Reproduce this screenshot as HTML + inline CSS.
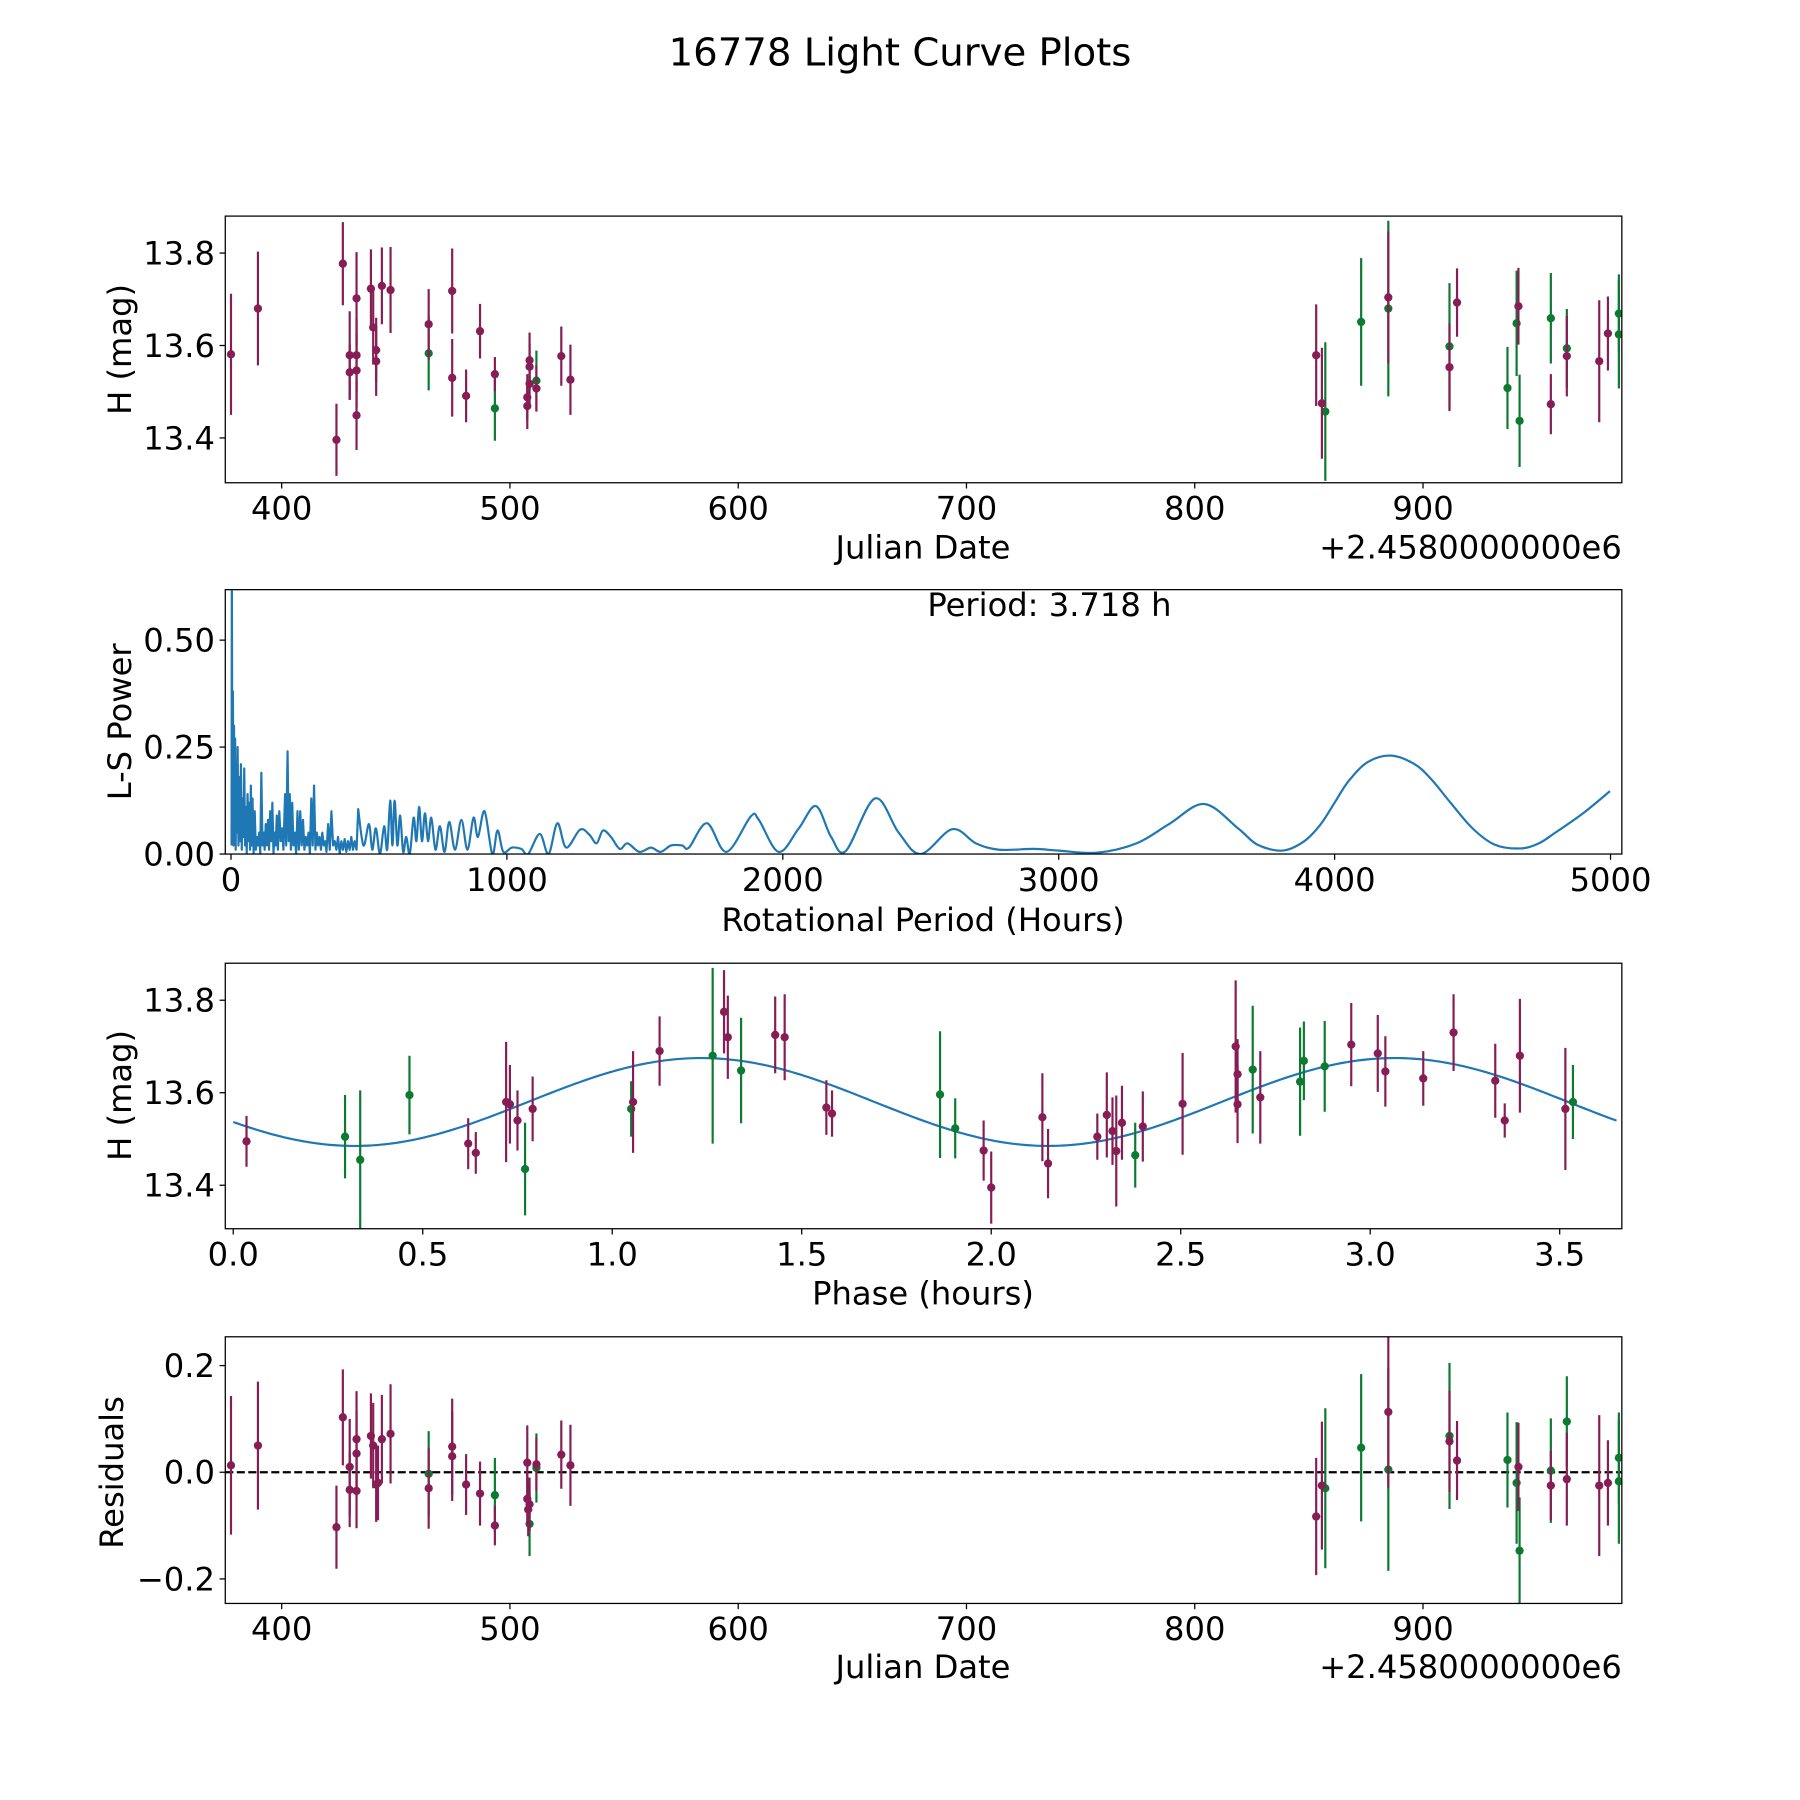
<!DOCTYPE html>
<html><head><meta charset="utf-8"><title>16778 Light Curve Plots</title>
<style>html,body{margin:0;padding:0;background:#fff;}svg{display:block;font-family:"DejaVu Sans","Liberation Sans",sans-serif;}</style>
</head><body>
<svg id="fig" xmlns="http://www.w3.org/2000/svg" width="1800" height="1800" viewBox="0 0 1566 1566">
<rect width="1566" height="1566" fill="#fff"/>
<text x="783" y="57" font-size="33.6" text-anchor="middle">16778 Light Curve Plots</text>
</svg>
<script>
// ---------- data ----------
const p1PurpleJD = [377.8,389.6,424,426.8,429.8,429.8,432.8,432.8,432.8,432.8,439.1,440.1,441.4,441.4,443.9,447.7,464.4,474.7,474.7,480.8,486.9,493.4,507.6,507.6,508.6,508.6,508.6,511.6,522.5,526.5,853.2,855.7,884.8,911.6,914.9,941.8,956,963,977.2,981];
const p1PurpleMag = [13.581,13.680,13.396,13.777,13.579,13.542,13.702,13.579,13.546,13.449,13.723,13.639,13.59,13.566,13.729,13.72,13.646,13.718,13.53,13.491,13.631,13.538,13.469,13.488,13.568,13.554,13.517,13.507,13.577,13.526,13.579,13.475,13.704,13.553,13.693,13.685,13.473,13.577,13.566,13.626];
const p1PurpleErr = [0.131,0.123,0.078,0.09,0.095,0.06,0.1,0.08,0.08,0.075,0.085,0.08,0.07,0.075,0.083,0.093,0.076,0.092,0.084,0.057,0.059,0.037,0.05,0.05,0.06,0.05,0.05,0.05,0.064,0.076,0.11,0.12,0.143,0.095,0.074,0.083,0.065,0.087,0.132,0.08];
const p1GreenJD = [464.4,493.4,511.6,857.2,872.9,884.8,911.6,937,941,942.3,956,963,985.8,985.8];
const p1GreenMag = [13.583,13.464,13.524,13.457,13.651,13.68,13.598,13.508,13.648,13.437,13.659,13.594,13.669,13.624];
const p1GreenErr = [0.08,0.07,0.065,0.15,0.138,0.19,0.137,0.089,0.114,0.1,0.098,0.085,0.085,0.117];

const lsPeriodDense = [2,3,5,7,9,11,13,15,17,19,21,24,27,30,33,36,39,42,45,48,51,54,57,60,63,66,69,72,75,78,82,86,90,94,98,102,106,110,114,118,122,126,130,134,138,142,146,150,154,158,162,166,170,175,180,185,190,196,200,205,209,213,217,222,226,231,236,241,246,251,256,261,266,271,276,281,286,291,296,301,306,311,316,321,326,331,336,341,346,352,358,364,370,376,382,388,394,400,406,412,418,424,430,436,442,448,455];
const lsPowerDense = [0.02,0.7,0.05,0.38,0.02,0.3,0.03,0.27,0.01,0.21,0.05,0.25,0.02,0.18,0.03,0.21,0.01,0.13,0.04,0.2,0.02,0.11,0.0,0.14,0.03,0.12,0.01,0.16,0.02,0.13,0.0,0.1,0.01,0.04,0.02,0.05,0.0,0.19,0.02,0.05,0.01,0.07,0.02,0.08,0.01,0.1,0.03,0.12,0.0,0.05,0.02,0.09,0.01,0.1,0.03,0.06,0.01,0.14,0.02,0.24,0.03,0.14,0.01,0.12,0.02,0.05,0.0,0.1,0.01,0.1,0.02,0.08,0.01,0.04,0.02,0.05,0.0,0.13,0.02,0.16,0.01,0.05,0.02,0.04,0.01,0.05,0.02,0.03,0.005,0.07,0.01,0.1,0.02,0.03,0.01,0.04,0.0,0.03,0.01,0.035,0.005,0.03,0.01,0.04,0.01,0.03,0.01];
const lsPeriodSmooth = [461,480,500,512,525,540,555,566,577,585,593,603,613,624,635,648,662,672,682,692,703,714,726,741,757,774,791,812,835,857,879,895,919,947,966,987,1018,1052,1077,1119,1151,1183,1215,1265,1299,1325,1348,1377,1409,1437,1480,1522,1557,1595,1635,1660,1725,1796,1884,1913,1985,2058,2120,2175,2228,2334,2420,2500,2614,2700,2784,2909,3000,3137,3282,3400,3527,3650,3720,3811,3890,3950,4000,4050,4120,4205,4290,4350,4420,4500,4580,4672,4740,4800,4900,4998];
const lsPowerSmooth = [0.105,0.02,0.07,0.01,0.06,0.0,0.065,0.01,0.125,0.02,0.125,0.02,0.09,0.005,0.04,0.0,0.085,0.03,0.11,0.03,0.095,0.03,0.085,0.01,0.065,0.005,0.075,0.01,0.08,0.01,0.085,0.04,0.1,0.0,0.055,0.005,0.015,0.012,0.0,0.047,0.0,0.072,0.015,0.057,0.045,0.025,0.055,0.04,0.012,0.025,0.005,0.015,0.005,0.02,0.02,0.015,0.072,0.005,0.088,0.08,0.005,0.06,0.112,0.04,0.007,0.13,0.05,0.0,0.058,0.025,0.01,0.012,0.008,0.003,0.025,0.07,0.117,0.06,0.022,0.008,0.03,0.07,0.12,0.17,0.215,0.23,0.21,0.175,0.12,0.06,0.022,0.013,0.025,0.05,0.095,0.147];

const p3PurplePhase = [0.035,0.62,0.64,0.72,0.73,0.75,0.79,1.055,1.125,1.295,1.305,1.43,1.455,1.565,1.58,1.98,2.0,2.135,2.15,2.28,2.305,2.32,2.33,2.345,2.40,2.505,2.645,2.65,2.65,2.71,2.95,3.02,3.04,3.14,3.22,3.33,3.355,3.395,3.515];
const p3PurpleMag = [13.495,13.49,13.47,13.58,13.575,13.54,13.565,13.58,13.69,13.775,13.72,13.725,13.72,13.568,13.555,13.475,13.395,13.547,13.447,13.505,13.552,13.517,13.474,13.535,13.527,13.576,13.70,13.64,13.575,13.59,13.704,13.685,13.646,13.631,13.73,13.626,13.54,13.68,13.565];
const p3PurpleErr = [0.055,0.055,0.045,0.13,0.085,0.065,0.07,0.11,0.075,0.09,0.09,0.083,0.093,0.059,0.05,0.065,0.078,0.095,0.075,0.05,0.092,0.073,0.12,0.08,0.076,0.11,0.143,0.076,0.084,0.1,0.09,0.083,0.076,0.059,0.083,0.08,0.037,0.123,0.132];
const p3GreenPhase = [0.295,0.335,0.465,0.77,1.05,1.265,1.34,1.865,1.905,2.38,2.69,2.815,2.825,2.88,3.535];
const p3GreenMag = [13.505,13.455,13.595,13.435,13.565,13.68,13.648,13.596,13.523,13.465,13.65,13.624,13.669,13.657,13.58];
const p3GreenErr = [0.09,0.15,0.085,0.1,0.06,0.19,0.114,0.137,0.065,0.07,0.138,0.117,0.085,0.098,0.08];
// fit model: [mean, amplitude, peak phase, period, curve end phase]
const fitParams = [13.58, 0.095, 1.235, 3.66, 3.65];

const p4PurpleJD = [377.8,389.6,424,426.8,429.8,429.8,432.8,432.8,432.8,439.1,440.1,441.4,442.2,443.9,447.7,464.4,474.7,474.7,480.8,486.9,493.4,507.6,507.6,508,508.6,511.6,522.5,526.5,853.2,855.7,884.8,911.6,914.9,941.8,956,963,977.2,981];
const p4PurpleRes = [0.013,0.05,-0.103,0.103,0.01,-0.033,0.062,0.035,-0.035,0.068,0.05,-0.023,-0.02,0.062,0.072,-0.03,0.048,0.03,-0.023,-0.04,-0.1,0.018,-0.05,-0.07,-0.06,0.015,0.033,0.013,-0.083,-0.025,0.113,0.058,0.022,0.01,-0.025,-0.013,-0.025,-0.02];
const p4PurpleErr = [0.13,0.12,0.078,0.09,0.09,0.07,0.09,0.08,0.07,0.08,0.08,0.07,0.07,0.083,0.093,0.076,0.09,0.084,0.057,0.06,0.037,0.07,0.05,0.05,0.05,0.05,0.064,0.076,0.11,0.12,0.143,0.095,0.074,0.083,0.065,0.087,0.132,0.08];
const p4GreenJD = [464.4,493.4,508.6,511.6,857.2,872.9,884.8,911.6,937,941,942.3,956,963,985.8,985.8];
const p4GreenRes = [-0.003,-0.043,-0.097,0.008,-0.03,0.046,0.005,0.068,0.023,-0.02,-0.147,0.003,0.095,0.027,-0.017];
const p4GreenErr = [0.08,0.07,0.06,0.065,0.15,0.138,0.19,0.137,0.089,0.114,0.1,0.098,0.085,0.085,0.117];

const xTicksJD = [400,500,600,700,800,900];
const yTicksMag = [13.4,13.6,13.8];
const xTicksLS = [0,1000,2000,3000,4000,5000];
const yTicksLS = [0,0.25,0.5];
const yTicksLSLabels = ["0.00","0.25","0.50"];
const xTicksPhase = [0,0.5,1,1.5,2,2.5,3,3.5];
const xTicksPhaseLabels = ["0.0","0.5","1.0","1.5","2.0","2.5","3.0","3.5"];
const yTicksRes = [-0.2,0,0.2];
const yTicksResLabels = ["\u22120.2","0.0","0.2"];

// ---------- drawing ----------
const NS = "http://www.w3.org/2000/svg";
const svg = document.getElementById('fig');
const PURPLE = "#871d55", GREEN = "#0c7a30", BLUE = "#1f77b4";
function mk(tag, attrs, parent){ const e=document.createElementNS(NS,tag); for(const k in attrs) e.setAttribute(k,attrs[k]); (parent||svg).appendChild(e); return e; }
function scale(d0,d1,r0,r1){ return v => r0 + (v-d0)/(d1-d0)*(r1-r0); }

function makePanel(name, x0,x1,y0,y1, xd, yd){
  const g = mk('g',{});
  
  
  const cid = name+'-clip';
  const cp = mk('clipPath',{id:cid},g); mk('rect',{x:x0,y:y0,width:x1-x0,height:y1-y0},cp);
  const plot = mk('g',{'clip-path':'url(#'+cid+')'},g);
  
  
  return {g, plot, x0,x1,y0,y1, sx: scale(xd[0],xd[1],x0,x1), sy: scale(yd[0],yd[1],y1,y0)};
}
function frame(P){
  const r = mk('rect',{x:P.x0,y:P.y0,width:P.x1-P.x0,height:P.y1-P.y0,fill:'none',stroke:'#000','stroke-width':1.1},P.g);
  
  
}
function ticks(P, xt, xl, yt, yl){
  xt.forEach((v,i)=>{ const x=P.sx(v);
    mk('line',{x1:x,x2:x,y1:P.y1,y2:P.y1+5,stroke:'#000','stroke-width':1.1},P.g);
    const t=mk('text',{x:x,y:P.y1+32,'font-size':28,'text-anchor':'middle'},P.g); t.textContent=xl?xl[i]:String(v);
    
     });
  yt.forEach((v,i)=>{ const y=P.sy(v);
    mk('line',{x1:P.x0-5,x2:P.x0,y1:y,y2:y,stroke:'#000','stroke-width':1.1},P.g);
    const t=mk('text',{x:P.x0-9,y:y+10,'font-size':28,'text-anchor':'end'},P.g); t.textContent=yl?yl[i]:String(v);
    
     });
}
function label(P, txt, x, y, rot, nm){
  const t=mk('text',{x:x,y:y,'font-size':28,'text-anchor':'middle'},P.g);
  if(rot) t.setAttribute('transform','rotate(-90 '+x+' '+y+')');
  t.textContent=txt;
  
  
}
function errSeries(P, xs, ys, es, color, nm){
  const g = mk('g',{},P.plot);
  
  
  xs.forEach((xv,i)=>{ const x=P.sx(xv);
    const l=mk('line',{x1:x,x2:x,y1:P.sy(ys[i]-es[i]),y2:P.sy(ys[i]+es[i]),stroke:color,'stroke-width':1.9},g);
    
     });
  xs.forEach((xv,i)=>{
    const c=mk('circle',{cx:P.sx(xv),cy:P.sy(ys[i]),r:3.6,fill:color},g);
    
     });
}

// Panel 1
const P1 = makePanel('light-curve-panel',196,1411,188,420,[375.3,987.1],[13.303,13.88]);
errSeries(P1,p1GreenJD,p1GreenMag,p1GreenErr,GREEN,'green-series');
errSeries(P1,p1PurpleJD,p1PurpleMag,p1PurpleErr,PURPLE,'purple-series');
frame(P1); ticks(P1,xTicksJD,null,yTicksMag,null);
label(P1,'Julian Date',803,486,false,'x-axis-title');
label(P1,'H (mag)',114,304,true,'y-axis-title');
(function(){const t=mk('text',{x:1411,y:486,'font-size':28,'text-anchor':'end'},P1.g);t.textContent='+2.4580000000e6';

})();

// Panel 2
const P2 = makePanel('periodogram-panel',196,1411,513,743,[-20.7,5041],[0,0.618]);
(function(){
  let d = '';
  lsPeriodDense.forEach((p,i)=>{ d += (i?'L':'M') + P2.sx(p).toFixed(2)+','+P2.sy(lsPowerDense[i]).toFixed(2); });
  const pts = lsPeriodSmooth.map((p,i)=>[P2.sx(p),P2.sy(lsPowerSmooth[i])]);
  d += 'L'+pts[0][0].toFixed(2)+','+pts[0][1].toFixed(2);
  for(let i=0;i<pts.length-1;i++){
    const p0=pts[Math.max(0,i-1)], p1=pts[i], p2=pts[i+1], p3=pts[Math.min(pts.length-1,i+2)];
    const c1=[p1[0]+(p2[0]-p0[0])/6, p1[1]+(p2[1]-p0[1])/6];
    const c2=[p2[0]-(p3[0]-p1[0])/6, p2[1]-(p3[1]-p1[1])/6];
    d += 'C'+c1[0].toFixed(2)+','+c1[1].toFixed(2)+' '+c2[0].toFixed(2)+','+c2[1].toFixed(2)+' '+p2[0].toFixed(2)+','+p2[1].toFixed(2);
  }
  const path = mk('path',{d:d,fill:'none',stroke:BLUE,'stroke-width':1.9,'stroke-linejoin':'round'},P2.plot);
  
  
})();
frame(P2); ticks(P2,xTicksLS,null,yTicksLS,yTicksLSLabels);
label(P2,'Rotational Period (Hours)',803,810,false,'x-axis-title');
label(P2,'L-S Power',114,628,true,'y-axis-title');
(function(){const t=mk('text',{x:913,y:536,'font-size':28,'text-anchor':'middle'},P2.g);t.textContent='Period: 3.718 h';

})();

// Panel 3
const P3 = makePanel('phase-folded-panel',196,1411,838,1069,[-0.021,3.664],[13.306,13.88]);
(function(){
  let d='';
  const n=400;
  for(let i=0;i<=n;i++){
    const ph = fitParams[4]*i/n;
    const v = fitParams[0] + fitParams[1]*Math.cos(2*Math.PI*2*(ph-fitParams[2])/fitParams[3]);
    d += (i?'L':'M')+P3.sx(ph).toFixed(2)+','+P3.sy(v).toFixed(2);
  }
  const path=mk('path',{d:d,fill:'none',stroke:BLUE,'stroke-width':1.9},P3.plot);
  
  
})();
errSeries(P3,p3GreenPhase,p3GreenMag,p3GreenErr,GREEN,'green-series');
errSeries(P3,p3PurplePhase,p3PurpleMag,p3PurpleErr,PURPLE,'purple-series');
frame(P3); ticks(P3,xTicksPhase,xTicksPhaseLabels,yTicksMag,null);
label(P3,'Phase (hours)',803,1135,false,'x-axis-title');
label(P3,'H (mag)',114,953,true,'y-axis-title');

// Panel 4
const P4 = makePanel('residuals-panel',196,1411,1163,1395,[375.3,987.1],[-0.246,0.254]);
(function(){const y=P4.sy(0);const l=mk('line',{x1:P4.x0,x2:P4.x1,y1:y,y2:y,stroke:'#000','stroke-width':1.9,'stroke-dasharray':'7,3'},P4.plot);

})();
errSeries(P4,p4GreenJD,p4GreenRes,p4GreenErr,GREEN,'green-series');
errSeries(P4,p4PurpleJD,p4PurpleRes,p4PurpleErr,PURPLE,'purple-series');
frame(P4); ticks(P4,xTicksJD,null,yTicksRes,yTicksResLabels);
label(P4,'Julian Date',803,1460,false,'x-axis-title');
label(P4,'Residuals',107,1281,true,'y-axis-title');
(function(){const t=mk('text',{x:1411,y:1460,'font-size':28,'text-anchor':'end'},P4.g);t.textContent='+2.4580000000e6';

})();
</script>
</body></html>
